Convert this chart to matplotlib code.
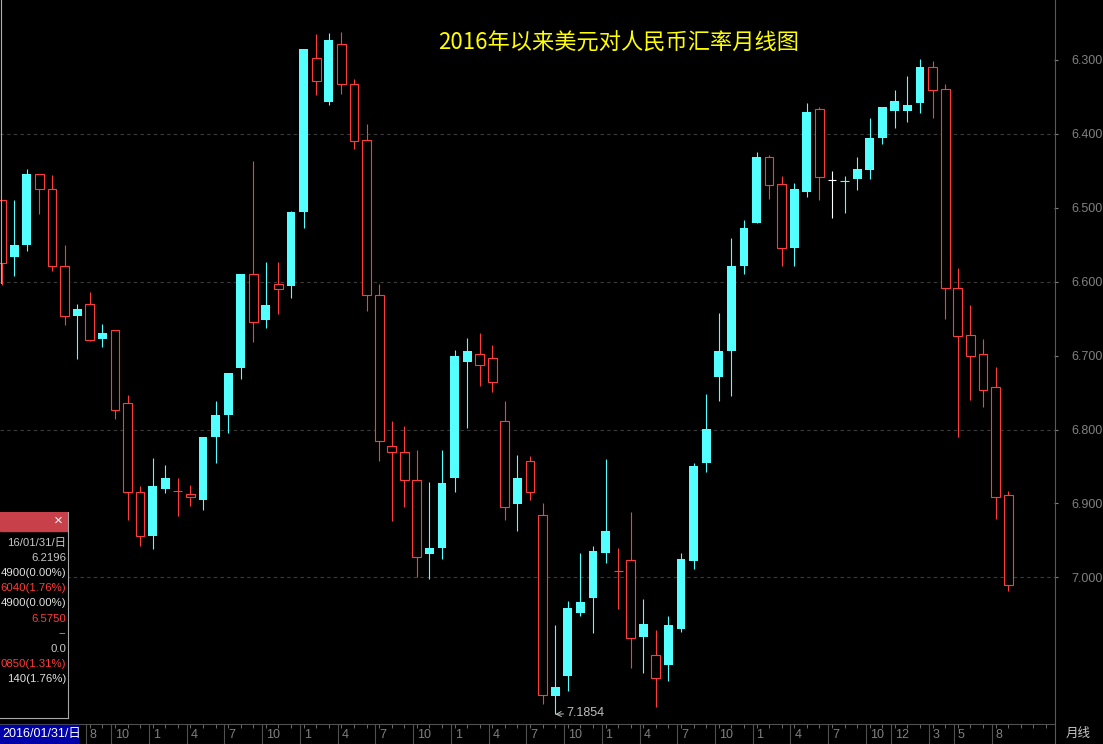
import numpy as np
import matplotlib.pyplot as plt
from matplotlib.patches import Rectangle

plt.rcParams['font.family'] = ['Liberation Sans', 'Noto Sans CJK SC', 'DejaVu Sans']

# monthly USD/CNY candles, Jan 2016 .. Sep 2022
opens = [6.490, 6.567, 6.550, 6.454, 6.474, 6.579, 6.646, 6.630, 6.678, 6.665,
         6.764, 6.884, 6.944, 6.881, 6.883, 6.887, 6.896, 6.810, 6.780, 6.717,
         6.589, 6.652, 6.603, 6.606, 6.506, 6.297, 6.357, 6.279, 6.332, 6.408,
         6.618, 6.822, 6.831, 6.869, 6.969, 6.960, 6.865, 6.709, 6.698, 6.703,
         6.789, 6.901, 6.842, 6.916, 7.161, 7.133, 7.048, 7.028, 6.967, 6.991,
         6.976, 7.081, 7.105, 7.118, 7.070, 6.978, 6.845, 6.729, 6.694, 6.579,
         6.520, 6.431, 6.468, 6.555, 6.479, 6.366, 6.462, 6.4635, 6.461, 6.449,
         6.405, 6.369, 6.369, 6.358, 6.309, 6.339, 6.608, 6.672, 6.698, 6.743,
         6.889]
highs = [6.604, 6.592, 6.558, 6.508, 6.586, 6.659, 6.705, 6.680, 6.689, 6.786,
         6.923, 6.958, 6.962, 6.886, 6.917, 6.904, 6.909, 6.845, 6.805, 6.732,
         6.682, 6.663, 6.644, 6.622, 6.527, 6.348, 6.361, 6.346, 6.421, 6.639,
         6.843, 6.924, 6.905, 6.999, 7.002, 6.975, 6.885, 6.798, 6.741, 6.749,
         6.922, 6.938, 6.896, 7.171, 7.1854, 7.154, 7.052, 7.076, 6.981, 7.043,
         7.123, 7.130, 7.175, 7.141, 7.074, 6.989, 6.857, 6.761, 6.755, 6.589,
         6.521, 6.488, 6.579, 6.579, 6.485, 6.489, 6.514, 6.507, 6.476, 6.461,
         6.413, 6.392, 6.384, 6.372, 6.379, 6.650, 6.810, 6.760, 6.770, 6.921,
         7.018]
lows = [6.490, 6.489, 6.448, 6.454, 6.455, 6.550, 6.630, 6.614, 6.657, 6.665,
        6.753, 6.876, 6.838, 6.848, 6.865, 6.875, 6.810, 6.761, 6.724, 6.589,
        6.436, 6.573, 6.574, 6.505, 6.285, 6.265, 6.264, 6.262, 6.326, 6.387,
        6.603, 6.789, 6.795, 6.828, 6.871, 6.828, 6.692, 6.676, 6.670, 6.686,
        6.761, 6.834, 6.836, 6.899, 7.064, 7.032, 6.967, 6.958, 6.840, 6.960,
        6.911, 7.029, 7.071, 7.053, 6.967, 6.845, 6.752, 6.642, 6.541, 6.516,
        6.425, 6.428, 6.457, 6.466, 6.358, 6.363, 6.450, 6.457, 6.431, 6.379,
        6.364, 6.341, 6.321, 6.298, 6.301, 6.332, 6.582, 6.632, 6.677, 6.715,
        6.883]
closes = [6.575, 6.551, 6.454, 6.474, 6.579, 6.647, 6.637, 6.679, 6.669, 6.773,
          6.884, 6.944, 6.877, 6.866, 6.884, 6.891, 6.810, 6.780, 6.724, 6.589,
          6.654, 6.632, 6.610, 6.506, 6.285, 6.328, 6.273, 6.332, 6.410, 6.618,
          6.816, 6.830, 6.869, 6.973, 6.960, 6.873, 6.700, 6.694, 6.713, 6.736,
          6.905, 6.865, 6.884, 7.159, 7.149, 7.041, 7.033, 6.964, 6.937, 6.992,
          7.082, 7.063, 7.136, 7.065, 6.975, 6.849, 6.799, 6.694, 6.579, 6.528,
          6.431, 6.469, 6.555, 6.474, 6.371, 6.458, 6.462, 6.463, 6.448, 6.405,
          6.364, 6.356, 6.361, 6.309, 6.341, 6.608, 6.673, 6.700, 6.746, 6.891,
          7.011]

# x axis month labels (index of candle, text)
label_pos = [7, 9, 12, 15, 18, 21, 24, 27, 30, 33, 36, 39, 42, 45, 48, 51, 54,
             57, 60, 63, 66, 69, 71, 74, 76, 79]
label_txt = ['8', '10', '1', '4', '7', '10', '1', '4', '7', '10', '1', '4', '7',
             '10', '1', '4', '7', '10', '1', '4', '7', '10', '12', '3', '5', '8']

price_ticks = [6.3, 6.4, 6.5, 6.6, 6.7, 6.8, 6.9, 7.0]
grid_levels = [6.4, 6.6, 6.8, 7.0]

panel_lines = ['16/01/31/日', '6.2196', '4900(0.00%)', '6040(1.76%)',
               '4900(0.00%)', '6.5750', '--', '0.0', '0850(1.31%)', '140(1.76%)']
panel_cols = ['#c8c8c8', '#c8c8c8', '#e0e0e0', '#ff3b3b', '#e0e0e0',
              '#ff3b3b', '#c8c800', '#c8c8c8', '#ff3b3b', '#e0e0e0']

RED = '#ff3c3c'
CYAN = '#54ffff'
GREY = '#808080'

W, H = 1103, 744
fig = plt.figure(figsize=(W / 100, H / 100), dpi=100, facecolor='black')


def fy(py):
    return 1 - py / H


# main price axes
ax = fig.add_axes([0, fy(724), 1054 / W, 724 / H])
ax.set_facecolor('black')
ax.set_xlim(-1.7 / 12.58, (1054 - 1.7) / 12.58)
ax.set_ylim(6.3 + 664 / 739, 6.3 - 60 / 739)

x = np.arange(len(opens))
o = np.array(opens)
c = np.array(closes)
hi = np.array(highs)
lo = np.array(lows)
up = c - o > 0.0015
down = o - c > 0.0015
flat = ~(up | down)
cols = np.where(c > o, RED, np.where(c < o, CYAN, '#ffffff'))

ax.vlines(x, lo, hi, colors=cols, lw=0.8, zorder=2)
ax.bar(x[up], (c - o)[up], bottom=o[up], width=0.7, facecolor='black',
       edgecolor=RED, lw=0.8, zorder=3)
ax.bar(x[down], (o - c)[down], bottom=c[down], width=0.7, color=CYAN,
       lw=0, zorder=3)
ax.hlines(o[flat], x[flat] - 0.35, x[flat] + 0.35, colors=cols[flat],
          lw=0.8, zorder=3)

for g in grid_levels:
    ax.axhline(g, color='#3c3c3c', lw=0.8, ls=(0, (3, 3)), zorder=1)

ax.yaxis.tick_right()
ax.set_yticks(price_ticks)
ax.set_yticklabels(['%.3f' % v for v in price_ticks])
ax.tick_params(axis='y', colors=GREY, length=3, width=0.8, pad=9.5, labelsize=9)
ax.tick_params(axis='x', bottom=False, labelbottom=False)
for s in ax.spines.values():
    s.set_visible(False)

# lowest point marker
ax.annotate('7.1854', xy=(44, 7.1854), xytext=(8, 1), textcoords='offset points',
            color='#c0c0c0', fontsize=9, ha='left', va='center',
            arrowprops=dict(arrowstyle='->', color='#c0c0c0', lw=0.7,
                            shrinkA=0, shrinkB=0))

# title
fig.text(619 / W, fy(43), '2016年以来美元对人民币汇率月线图', color='#ffff00',
         fontsize=16, ha='center', va='center',
         family=['Noto Sans CJK SC', 'DejaVu Sans'])

# cursor line at the left edge
fig.add_artist(plt.Line2D([0.6 / W] * 2, [fy(283), 1], color='#b0b0b0', lw=0.8))

# date bar at the bottom
axb = fig.add_axes([0, 0, 1054 / W, 20 / H])
axb.set_facecolor('black')
axb.set_xlim(ax.get_xlim())
axb.set_ylim(0, 1)
axb.set_xticks(np.arange(0, 84))
axb.set_yticks([])
axb.tick_params(axis='x', top=True, bottom=False, labelbottom=False,
                direction='in', length=3, width=0.7, color='#6a6a6a')
for k, s in axb.spines.items():
    s.set_visible(k in ('top', 'bottom'))
    s.set_color('#505050')
axb.vlines(np.array(label_pos) - 0.3, 0, 1, colors='#505050', lw=0.8)
for p, t in zip(label_pos, label_txt):
    axb.text(p, 0.45, t, color=GREY, fontsize=9, ha='left', va='center')
axb.add_patch(Rectangle((0, 0.06), 78 / 1054, 0.88, transform=axb.transAxes,
                        color='#0000a8', zorder=3))
axb.text(2 / 1054, 0.48, '2016/01/31/日', transform=axb.transAxes,
         color='#ffffff', fontsize=9, ha='left', va='center', zorder=4)

# right axis line and unit label
fig.add_artist(plt.Line2D([1054.5 / W] * 2, [0, 1], color='#5a5a5a', lw=0.8))
fig.text(1066 / W, fy(733), '月线', color='#c8c8c8', fontsize=9,
         ha='left', va='center', family=['Noto Sans CJK SC', 'DejaVu Sans'])

# info panel
axp = fig.add_axes([0, fy(718), 68 / W, (718 - 512) / H])
axp.set_facecolor('black')
axp.set_xticks([])
axp.set_yticks([])
for k, s in axp.spines.items():
    s.set_visible(k in ('right', 'bottom'))
    s.set_color('#a8a8a8')
axp.add_patch(Rectangle((0, (718 - 531) / 206), 1, 19 / 206,
                        transform=axp.transAxes, color='#c8414a'))
axp.text(58 / 68, (718 - 521) / 206, '×', transform=axp.transAxes,
         color='#f0f0f0', fontsize=11, ha='center', va='center')
for k, (t, col) in enumerate(zip(panel_lines, panel_cols)):
    yy = 543 + k * 15.1
    axp.text(66 / 68, (718 - yy) / 206, t, transform=axp.transAxes, color=col,
             fontsize=8.2, ha='right', va='center')

fig.savefig('out.png', dpi=100, facecolor='black')
